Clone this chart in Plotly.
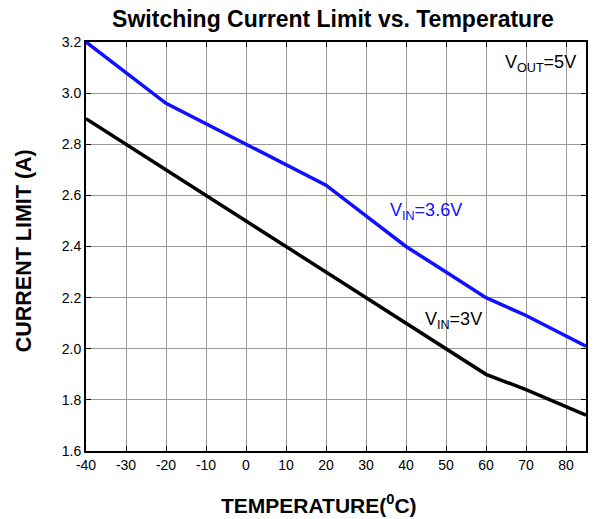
import plotly.graph_objects as go

temps_36 = [-40, -20, 0, 10, 20, 30, 40, 50, 60, 70, 85]
curr_36 = [3.20, 2.96, 2.80, 2.72, 2.64, 2.52, 2.40, 2.30, 2.20, 2.13, 2.01]
temps_3 = [-40, -20, 0, 20, 40, 50, 60, 70, 85]
curr_3 = [2.90, 2.70, 2.50, 2.30, 2.10, 2.00, 1.90, 1.84, 1.74]
x_ticks = list(range(-40, 81, 10))
y_ticks = [1.6, 1.8, 2.0, 2.2, 2.4, 2.6, 2.8, 3.0, 3.2]

font = "Liberation Sans, Arial, sans-serif"

L, R, T, B = 86, 6, 42, 68
PW, PH = 594 - L - R, 519 - T - B

fig = go.Figure()
fig.add_trace(go.Scatter(x=temps_36, y=curr_36, mode="lines",
                         line=dict(color="#1010ff", width=3.5), showlegend=False))
fig.add_trace(go.Scatter(x=temps_3, y=curr_3, mode="lines",
                         line=dict(color="black", width=3.5), showlegend=False))

axis_common = dict(showgrid=True, gridcolor="#999999", gridwidth=1,
                   showline=True, linecolor="black", linewidth=2, mirror="ticks",
                   ticks="inside", ticklen=5, tickcolor="black", tickwidth=1,
                   zeroline=False, tickfont=dict(family=font, size=14, color="black"))

fig.update_xaxes(range=[-40, 85], tickvals=x_ticks, ticktext=[str(v) for v in x_ticks],
                 **axis_common)
fig.update_yaxes(range=[1.6, 3.2], tickvals=y_ticks, ticktext=[f"{v:.1f}" for v in y_ticks],
                 **axis_common)

# axis titles as annotations, placed by pixel position like the reference
fig.add_annotation(x=(320 - L) / PW, y=-(504 - (T + PH)) / PH,
                   xref="paper", yref="paper",
                   text="<b>TEMPERATURE(<sup>0</sup>C)</b>", showarrow=False,
                   font=dict(family=font, size=21, color="black"),
                   xanchor="center", yanchor="middle")
fig.add_annotation(x=(24 - L) / PW, y=1 - (251 - T) / PH,
                   xref="paper", yref="paper", textangle=-90,
                   text="<b>CURRENT LIMIT (A)</b>", showarrow=False,
                   font=dict(family=font, size=21.5, color="black"),
                   xanchor="center", yanchor="middle")

fig.add_annotation(x=45, y=2.535, text="V<sub>IN</sub>=3.6V", showarrow=False,
                   font=dict(family=font, size=18, color="#1010ff"), xanchor="center", yanchor="middle")
fig.add_annotation(x=51.8, y=2.11, text="V<sub>IN</sub>=3V", showarrow=False,
                   font=dict(family=font, size=18, color="black"), xanchor="center", yanchor="middle")
fig.add_annotation(x=73.5, y=3.114, text="V<sub>OUT</sub>=5V", showarrow=False,
                   font=dict(family=font, size=18, color="black"), xanchor="center", yanchor="middle")

fig.update_layout(
    width=594, height=519,
    margin=dict(l=L, r=R, t=T, b=B),
    paper_bgcolor="white", plot_bgcolor="white",
    title=dict(text="<b>Switching Current Limit vs. Temperature</b>",
               font=dict(family=font, size=23, color="black"),
               x=333 / 594, xanchor="center", y=1 - 19 / 519, yanchor="middle"),
)

fig.write_html("out.html")
